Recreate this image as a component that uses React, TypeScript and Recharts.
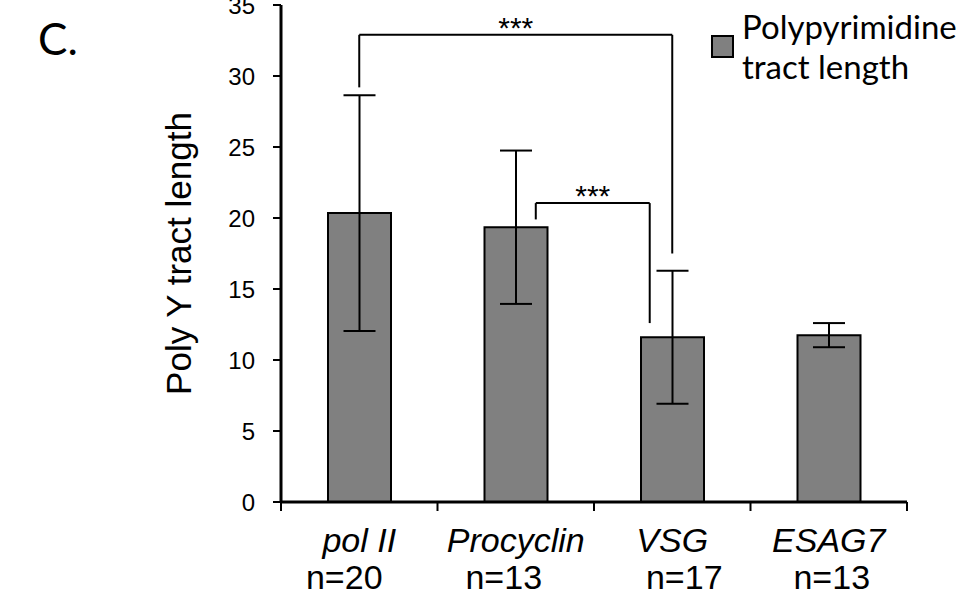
import React from "react";
import {
  BarChart,
  Bar,
  ErrorBar,
  XAxis,
  YAxis,
  Legend,
  ReferenceLine
} from "recharts";

// valores
const categories = ["pol II", "Procyclin", "VSG", "ESAG7"];
const sampleSizes = ["n=20", "n=13", "n=17", "n=13"];
const tractLength = [20.35, 19.35, 11.6, 11.75];
const tractError = [8.3, 5.4, 4.68, 0.85];
const yTicks = [0, 5, 10, 15, 20, 25, 30, 35];
const xTicks = [0, 0.5, 1, 1.5, 2, 2.5, 3, 3.5, 4];
const legendLines = ["Polypyrimidine", "tract length"];

// colchetes de significância (em unidades dos eixos)
const brackets = [
  { x1: 0.5, x2: 2.5, top: 32.9, left: 29.2, right: 17.5, label: "***" },
  { x1: 1.628, x2: 2.356, top: 21.05, left: 19.9, right: 12.6, label: "***" }
];

// deslocamento (px) dos rótulos "n=" no original, que não ficam centrados
const nLabelNudge = [-15, -12, 12, 3];

// cada categoria ocupa uma unidade do eixo x numérico
const data = categories.map((name, i) => ({
  name,
  pos: i + 0.5,
  value: tractLength[i],
  err: tractError[i]
}));

const ARIAL = "'Liberation Sans', Arial, sans-serif";

function XTick(props: any) {
  const { x, y, payload } = props;
  const v = payload.value as number;
  if (Number.isInteger(v)) {
    return <line x1={x} y1={y} x2={x} y2={y + 9} stroke="#000" strokeWidth={2} />;
  }
  const i = Math.floor(v);
  return (
    <g>
      <text x={x} y={y + 50} textAnchor="middle" fontFamily={ARIAL} fontSize={34} fontStyle="italic" fill="#000">
        {categories[i]}
      </text>
      <text x={x + nLabelNudge[i]} y={y + 87} textAnchor="middle" fontFamily={ARIAL} fontSize={34} fill="#000">
        {sampleSizes[i]}
      </text>
    </g>
  );
}

function LegendContent() {
  return (
    <div style={{ display: "flex", alignItems: "center", fontFamily: "Lato, 'Open Sans', sans-serif" }}>
      <div style={{ width: 19, height: 19, background: "#808080", border: "2px solid #000", marginRight: 8 }} />
      <div style={{ fontSize: 33, lineHeight: "40px", color: "#000" }}>
        {legendLines.map((t) => (
          <div key={t}>{t}</div>
        ))}
      </div>
    </div>
  );
}

export default function App() {
  return (
    <div style={{ position: "absolute", left: 0, top: 0, width: 962, height: 606, background: "#fff" }}>
      <div style={{ position: "absolute", left: 38, top: 12, fontFamily: "Lato, sans-serif", fontSize: 44, color: "#000" }}>
        C.
      </div>
      <BarChart width={962} height={606} data={data} margin={{ top: 5, right: 55, left: 181, bottom: 0 }}>
        <XAxis
          dataKey="pos"
          type="number"
          domain={[0, 4]}
          allowDataOverflow
          ticks={xTicks}
          interval={0}
          tickLine={false}
          tickSize={0}
          tickMargin={0}
          height={104}
          axisLine={{ stroke: "#000", strokeWidth: 3 }}
          tick={<XTick />}
        />
        <YAxis
          domain={[0, 35]}
          ticks={yTicks}
          interval={0}
          width={100}
          tickSize={8}
          tickMargin={18}
          axisLine={{ stroke: "#000", strokeWidth: 3 }}
          tickLine={{ stroke: "#000", strokeWidth: 2 }}
          tick={{ fill: "#000", fontSize: 24, fontFamily: ARIAL }}
          label={{
            value: "Poly Y tract length",
            angle: -90,
            position: "center",
            dx: -52,
            dy: 0,
            style: { fontSize: 35, fontFamily: ARIAL, fill: "#000", textAnchor: "middle" }
          }}
        />
        <Legend
          layout="vertical"
          align="center"
          verticalAlign="middle"
          wrapperStyle={{ left: 711, top: 6 }}
          content={<LegendContent />}
        />
        <Bar
          dataKey="value"
          name="Polypyrimidine tract length"
          fill="#808080"
          stroke="#000"
          strokeWidth={2}
          barSize={63}
          isAnimationActive={false}
        >
          <ErrorBar dataKey="err" width={16} stroke="#000" strokeWidth={2} />
        </Bar>
        {brackets.map((b, i) => (
          <React.Fragment key={i}>
            <ReferenceLine
              segment={[{ x: b.x1, y: b.top }, { x: b.x2, y: b.top }]}
              stroke="#000"
              strokeWidth={2}
              label={{ value: b.label, position: "top", offset: -3, fill: "#000", fontSize: 30, fontFamily: ARIAL }}
            />
            <ReferenceLine
              segment={[{ x: b.x1, y: b.top }, { x: b.x1, y: b.left }]}
              stroke="#000"
              strokeWidth={2}
            />
            <ReferenceLine
              segment={[{ x: b.x2, y: b.top }, { x: b.x2, y: b.right }]}
              stroke="#000"
              strokeWidth={2}
            />
          </React.Fragment>
        ))}
      </BarChart>
    </div>
  );
}
